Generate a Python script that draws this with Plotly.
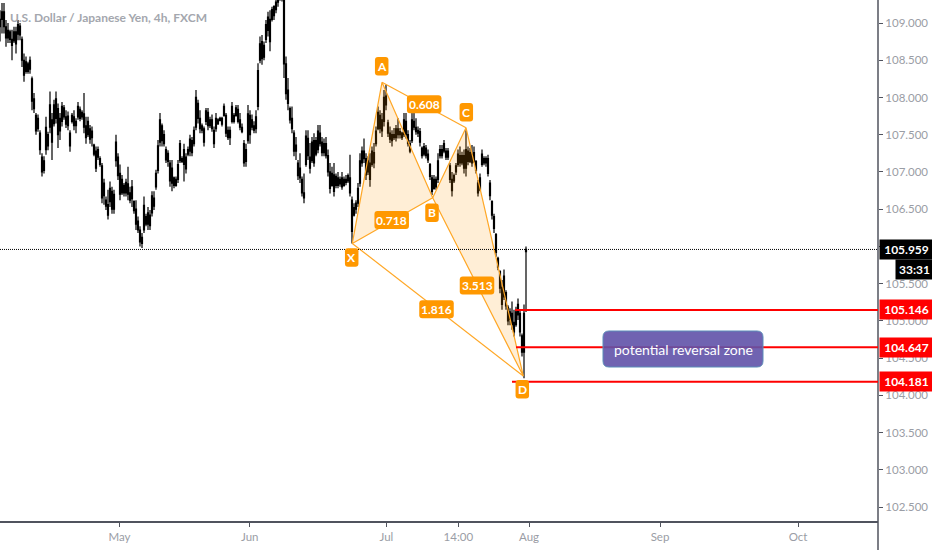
import plotly.graph_objects as go

# USD/JPY 4h, values, one entry per drawn bar
opens = [
    108.95,109.05,109.15,108.95,108.80,108.88,108.78,108.76,108.88,108.85,
    108.96,108.78,108.50,108.35,108.45,108.38,108.25,107.98,107.76,107.58,
    107.52,107.20,107.02,107.30,107.50,107.60,107.70,107.65,107.72,107.85,
    107.55,107.68,107.86,107.74,107.62,107.52,107.68,107.74,107.62,107.74,
    107.84,107.74,107.78,107.62,107.50,107.58,107.46,107.36,107.28,107.20,
    107.18,107.08,106.68,106.62,106.56,106.60,106.74,106.50,107.15,107.20,
    106.98,106.72,106.82,106.72,106.84,106.72,106.64,106.60,106.50,106.34,
    106.22,106.04,106.22,106.40,106.30,106.42,106.45,106.65,106.80,107.02,
    107.40,107.62,107.38,107.30,107.14,107.12,106.85,106.92,106.82,106.90,
    107.15,107.18,107.10,107.20,107.24,107.28,107.42,107.38,107.60,107.92,
    107.72,107.56,107.58,107.68,107.80,107.62,107.70,107.56,107.58,107.70,
    107.69,107.72,107.76,107.76,107.56,107.46,107.68,107.76,107.76,107.84,
    107.70,107.60,107.38,107.14,107.42,107.76,107.60,107.62,107.58,107.88,
    108.50,108.75,108.54,108.78,108.90,109.05,109.05,109.10,109.18,109.28,
    109.46,109.40,109.32,108.45,108.10,107.85,107.72,107.52,107.28,107.12,
    107.05,106.90,106.72,107.10,107.45,107.20,107.15,107.42,107.24,107.30,
    107.52,107.40,107.26,107.38,107.22,107.00,106.82,106.96,106.82,106.92,
    106.84,106.92,106.82,106.90,106.88,106.92,106.62,106.42,106.50,106.58,
    106.85,107.12,107.28,107.18,107.00,107.12,107.10,107.26,107.38,107.58,
    107.76,107.55,107.68,108.02,107.66,107.52,107.42,107.50,107.46,107.58,
    107.50,107.52,107.50,107.68,107.50,107.38,107.42,107.68,107.60,107.52,
    107.54,107.32,107.24,107.32,107.24,107.10,106.92,106.78,106.90,106.90,
    107.22,107.30,107.28,107.28,107.20,107.08,106.90,106.88,107.00,107.10,
    107.22,107.12,107.22,107.05,107.28,107.14,107.24,107.14,107.14,106.85,
    106.76,107.10,107.18,107.12,107.18,106.85,106.60,106.40,106.16,105.84,
    105.66,105.45,105.32,105.38,105.18,105.02,105.10,104.98,104.95,105.08,105.10,104.80,104.58,105.93,
]
highs = [
    109.17,109.27,109.27,109.04,109.00,108.91,108.91,108.95,108.95,109.04,
    109.00,108.82,108.59,108.55,108.48,108.55,108.28,108.06,107.79,107.77,
    107.56,107.25,107.21,107.74,107.54,108.08,107.79,107.97,108.08,107.92,
    107.79,107.94,107.90,107.83,107.81,107.56,107.79,107.83,107.72,107.94,
    107.88,107.83,108.06,107.74,107.74,107.63,107.61,107.38,107.34,107.34,
    107.21,107.12,106.91,106.67,106.76,106.87,106.80,106.76,107.50,107.25,
    107.10,106.96,106.85,106.91,107.07,106.80,106.89,106.62,106.62,106.40,
    106.27,106.18,106.67,106.44,106.53,106.49,106.74,106.74,107.03,107.43,
    107.79,107.65,107.56,107.34,107.29,107.16,107.16,106.94,106.94,107.16,
    107.43,107.21,107.38,107.25,107.34,107.50,107.47,107.61,108.10,107.97,
    107.83,107.65,107.61,107.86,107.86,107.74,107.77,107.61,107.79,107.72,
    107.74,107.74,107.92,107.79,107.61,107.61,107.94,107.79,107.90,107.90,
    107.79,107.65,107.43,107.38,107.90,107.83,107.77,107.68,107.83,108.46,
    108.82,108.84,108.75,109.04,109.15,109.17,109.22,109.24,109.31,109.55,
    109.60,109.65,109.40,108.55,108.26,107.88,107.88,107.56,107.47,107.16,
    107.25,106.94,106.98,107.56,107.56,107.39,107.47,107.52,107.47,107.63,
    107.63,107.47,107.45,107.47,107.30,107.12,107.07,107.12,106.98,107.00,
    106.94,107.00,106.94,106.96,106.98,107.23,106.67,106.58,106.62,106.85,
    107.25,107.34,107.45,107.25,107.21,107.25,107.34,107.39,107.61,107.88,
    107.83,107.79,108.10,108.17,107.70,107.61,107.56,107.59,107.63,107.72,
    107.59,107.54,107.79,107.79,107.56,107.43,107.79,107.79,107.72,107.61,
    107.59,107.34,107.39,107.36,107.30,107.12,106.96,106.96,106.94,107.25,
    107.36,107.36,107.43,107.32,107.32,107.12,107.00,106.98,107.12,107.30,
    107.34,107.27,107.30,107.56,107.34,107.32,107.36,107.34,107.16,106.89,
    106.98,107.30,107.21,107.21,107.23,106.89,106.62,106.44,106.18,105.86,
    105.68,105.55,105.69,105.41,105.21,105.17,105.26,105.15,105.19,105.30,105.15,104.83,105.22,106.00,
]
lows = [
    108.75,108.86,108.86,108.68,108.73,108.73,108.50,108.73,108.59,108.77,
    108.77,108.41,108.21,108.32,108.32,108.32,107.83,107.79,107.50,107.54,
    107.23,106.94,106.98,107.23,107.29,107.52,107.16,107.61,107.65,107.32,
    107.43,107.61,107.70,107.59,107.56,107.27,107.65,107.56,107.52,107.70,
    107.68,107.70,107.52,107.38,107.47,107.38,107.34,107.21,107.00,107.16,
    107.07,106.58,106.56,106.49,106.36,106.53,106.44,106.44,107.07,106.89,
    106.62,106.69,106.67,106.67,106.62,106.58,106.53,106.44,106.22,106.18,
    106.00,105.98,106.18,106.27,106.22,106.22,106.40,106.49,106.76,106.98,
    107.34,107.34,107.34,107.12,107.07,106.80,106.74,106.78,106.80,106.85,
    107.12,107.12,106.87,106.98,107.21,107.21,107.21,107.34,107.56,107.65,
    107.52,107.52,107.34,107.63,107.56,107.59,107.54,107.32,107.54,107.63,
    107.68,107.61,107.74,107.47,107.43,107.36,107.65,107.65,107.74,107.65,
    107.56,107.52,107.07,107.07,107.38,107.38,107.56,107.52,107.52,107.83,
    108.46,108.44,108.50,108.73,108.82,108.62,109.02,109.04,109.13,109.22,
    109.30,109.29,108.26,107.97,107.83,107.65,107.52,107.21,107.16,106.89,
    106.85,106.67,106.58,107.07,107.16,106.98,107.12,107.07,107.21,107.25,
    107.34,107.21,107.21,107.18,106.94,106.71,106.80,106.67,106.78,106.78,
    106.80,106.76,106.80,106.82,106.85,106.67,106.04,106.40,106.44,106.53,
    106.80,107.07,107.12,106.89,106.96,106.80,107.07,107.05,107.34,107.56,
    107.52,107.47,107.61,107.83,107.47,107.39,107.34,107.43,107.41,107.45,
    107.45,107.43,107.47,107.45,107.34,107.25,107.39,107.56,107.50,107.47,
    107.34,107.18,107.21,107.18,107.12,106.89,106.69,106.76,106.76,106.85,
    107.18,107.18,107.25,107.16,107.16,106.85,106.67,106.85,106.96,107.07,
    107.07,107.09,106.98,106.94,107.09,107.12,107.07,107.12,106.98,106.67,
    106.74,107.07,107.09,107.07,106.94,106.62,106.36,106.18,105.86,105.68,
    105.37,105.15,105.28,105.15,104.94,104.94,104.88,104.79,104.92,105.01,104.79,104.52,104.23,105.12,
]
closes = [
    109.05,109.15,108.95,108.80,108.90,108.78,108.70,108.88,108.72,108.98,
    108.84,108.50,108.30,108.48,108.35,108.50,107.95,107.85,107.55,107.72,
    107.30,107.00,107.15,107.60,107.35,107.90,107.40,107.90,107.98,107.50,
    107.72,107.88,107.74,107.64,107.75,107.35,107.76,107.62,107.68,107.88,
    107.72,107.80,107.60,107.46,107.68,107.44,107.55,107.24,107.05,107.30,
    107.10,106.65,106.85,106.54,106.42,106.78,106.50,106.70,107.40,106.95,
    106.70,106.90,106.72,106.86,106.70,106.62,106.80,106.48,106.30,106.22,
    106.06,106.12,106.55,106.30,106.45,106.28,106.68,106.54,106.98,107.35,
    107.70,107.42,107.50,107.16,107.25,106.88,107.05,106.82,106.90,107.10,
    107.38,107.14,107.30,107.04,107.30,107.44,107.26,107.56,108.00,107.72,
    107.58,107.62,107.40,107.82,107.62,107.70,107.58,107.38,107.72,107.65,
    107.72,107.64,107.88,107.52,107.46,107.56,107.88,107.68,107.86,107.68,
    107.60,107.54,107.12,107.30,107.78,107.50,107.70,107.56,107.74,108.36,
    108.72,108.52,108.70,108.98,109.08,108.75,109.18,109.22,109.28,109.48,
    109.38,109.32,108.45,108.05,107.92,107.70,107.58,107.28,107.36,106.95,
    106.92,106.72,106.65,107.48,107.22,107.05,107.40,107.12,107.42,107.55,
    107.38,107.26,107.38,107.22,107.00,106.78,106.98,106.74,106.94,106.82,
    106.90,106.80,106.90,106.86,106.95,106.72,106.20,106.52,106.58,106.78,
    107.15,107.28,107.18,106.96,107.15,106.90,107.28,107.12,107.55,107.80,
    107.58,107.70,108.00,107.90,107.52,107.44,107.50,107.46,107.58,107.50,
    107.54,107.46,107.70,107.50,107.38,107.28,107.70,107.60,107.54,107.56,
    107.40,107.22,107.34,107.22,107.16,106.94,106.74,106.90,106.80,107.15,
    107.30,107.22,107.38,107.20,107.28,106.90,106.75,106.95,107.08,107.24,
    107.12,107.22,107.05,107.30,107.14,107.26,107.12,107.26,107.02,106.72,
    106.92,107.24,107.12,107.18,106.98,106.68,106.42,106.24,105.92,105.72,
    105.44,105.22,105.60,105.20,105.00,105.12,104.95,104.85,105.12,105.22,104.85,104.58,105.10,105.959,
]

# harmonic pattern pivots
pivot_names = ["X", "A", "B", "C", "D"]
pivot_bars = [176.15, 191.0, 216.35, 233.0, 261.65]
pivot_prices = [106.04, 108.204, 106.654, 107.594, 104.259]

ratio_labels = ["0.608", "0.718", "3.513", "1.816"]
ratio_bars = [212.1, 195.85, 238.5, 218.25]
ratio_prices = [107.908, 106.354, 105.475, 105.155]

# red levels of the reversal zone
level_prices = [105.146, 104.647, 104.181]
level_texts = ["105.146", "104.647", "104.181"]
level_starts = [257.5, 258.0, 256.0]

last_price = 105.959
last_text = "105.959"
countdown_text = "33:31"
countdown_price = 105.69

price_ticks = [102.5, 103, 103.5, 104, 104.5, 105, 105.5, 106, 106.5, 107, 107.5, 108, 108.5, 109]
month_labels = ["May", "Jun", "Jul", "14:00", "Aug", "Sep", "Oct"]
month_bars = [59.75, 124.85, 193.2, 229.2, 264.5, 330, 399]

ORANGE = "#ff9800"
GREY = "#9a9da5"
FONT = "Lato"


def round_box(x, y, w, h, r, fill, line="rgba(0,0,0,0)", dx=0, dy=0, line_w=1):
    # rounded rectangle, sized in pixels around a data point
    x0, x1 = dx - w / 2, dx + w / 2
    y0, y1 = dy - h / 2, dy + h / 2
    path = (f"M {x0 + r} {y0} L {x1 - r} {y0} Q {x1} {y0} {x1} {y0 + r} "
            f"L {x1} {y1 - r} Q {x1} {y1} {x1 - r} {y1} "
            f"L {x0 + r} {y1} Q {x0} {y1} {x0} {y1 - r} "
            f"L {x0} {y0 + r} Q {x0} {y0} {x0 + r} {y0} Z")
    return dict(type="path", xref="x", yref="y", xsizemode="pixel", ysizemode="pixel",
                xanchor=x, yanchor=y, path=path, fillcolor=fill,
                line=dict(color=line, width=line_w), layer="above")


bars = list(range(len(closes)))
px_of = dict(zip(pivot_names, pivot_bars))
py_of = dict(zip(pivot_names, pivot_prices))

fig = go.Figure()
fig.add_trace(go.Candlestick(
    x=bars, open=opens, high=highs, low=lows, close=closes,
    increasing=dict(line=dict(color="#000000", width=1.2), fillcolor="#000000"),
    decreasing=dict(line=dict(color="#000000", width=1.2), fillcolor="#000000"),
    whiskerwidth=0, showlegend=False,
))


def pattern_leg(names, fill=False):
    fig.add_trace(go.Scatter(
        x=[px_of[n] for n in names], y=[py_of[n] for n in names], mode="lines",
        line=dict(color="#ffa726", width=1.2),
        fill="toself" if fill else None,
        fillcolor="rgba(255,152,0,0.16)",
        showlegend=False, hoverinfo="skip",
    ))


pattern_leg(["X", "A", "B", "X"], fill=True)
pattern_leg(["B", "C", "D", "B"], fill=True)
pattern_leg(["A", "C"])
pattern_leg(["X", "D"])

shapes = [
    dict(type="line", xref="paper", x0=0, x1=1, yref="y", y0=last_price, y1=last_price,
         line=dict(color="black", width=1, dash="1px,1px")),
    # y axis runs on below the time axis
    dict(type="line", xref="paper", x0=1, x1=1, yref="paper", y0=-0.06, y1=1,
         line=dict(color="#50535e", width=1.5)),
]
for start, price in zip(level_starts, level_prices):
    shapes.append(dict(type="line", xref="x", x0=start, x1=439, yref="y", y0=price, y1=price,
                       line=dict(color="#ff0000", width=2)))

annotations = [dict(
    text="U.S. Dollar / Japanese Yen, 4h, FXCM", xref="paper", yref="paper", x=0.009, y=0.967,
    xanchor="left", yanchor="middle", showarrow=False,
    font=dict(family=FONT, size=12, color="#a4a7ae", weight=700),
)]

# letter badges sit just off their pivots
badge_shift = {"X": (-0.6, -14), "A": (-0.3, 16), "B": (-0.7, -15), "C": (0.3, 15.5), "D": (-1, -13.3)}
for name in pivot_names:
    dx, dy = badge_shift[name]
    shapes.append(round_box(px_of[name], py_of[name], 13.5, 18.5, 3, ORANGE, dx=dx, dy=dy))
    annotations.append(dict(text=name, x=px_of[name], y=py_of[name], xshift=dx, yshift=dy,
                            showarrow=False, font=dict(family=FONT, size=12, color="white", weight=700)))

for label, bar, price in zip(ratio_labels, ratio_bars, ratio_prices):
    shapes.append(round_box(bar, price, 34.5, 18, 3, ORANGE))
    annotations.append(dict(text=label, x=bar, y=price, showarrow=False,
                            font=dict(family=FONT, size=12, color="white", weight=700)))

# reversal zone note
shapes.append(round_box(341.5, 104.622, 160, 36, 6, "rgba(96,82,168,0.9)", line="#5b8db8"))
annotations.append(dict(text="potential reversal zone", x=341.5, y=104.622, showarrow=False,
                        font=dict(family=FONT, size=14, color="white")))


def price_tag(text, price, color, w=53):
    annotations.append(dict(
        text=text, xref="paper", yref="y", x=1, y=price, xanchor="left", xshift=54 - w,
        showarrow=False, bgcolor=color, width=w, height=19, borderpad=0, align="center",
        font=dict(family=FONT, size=12, color="white", weight=700),
    ))


for text, price in zip(level_texts, level_prices):
    price_tag(text, price, "#ff0000")
price_tag(last_text, last_price, "#000000")
price_tag(countdown_text, countdown_price, "#000000", w=37)

fig.update_layout(
    width=932, height=550,
    margin=dict(l=0, r=54, t=0, b=29),
    paper_bgcolor="white", plot_bgcolor="white",
    font=dict(family=FONT, size=11.5, color=GREY),
    showlegend=False,
    shapes=shapes, annotations=annotations,
    xaxis=dict(
        range=[0, 439], rangeslider=dict(visible=False), showgrid=False, zeroline=False,
        tickmode="array", tickvals=month_bars, ticktext=month_labels,
        ticks="outside", ticklen=4, tickcolor="#50535e",
        showline=True, linecolor="#50535e", linewidth=1.5,
    ),
    yaxis=dict(
        side="right", range=[102.312, 109.309], showgrid=False, zeroline=False,
        tickmode="array", tickvals=price_ticks, tickformat=".3f",
        ticks="outside", ticklen=4, tickcolor="#50535e",
    ),
)

# page margin would push the chart off the 932x550 window
fig.write_html("out.html", post_script="document.body.style.margin = '0';",
               config=dict(displayModeBar=False))
